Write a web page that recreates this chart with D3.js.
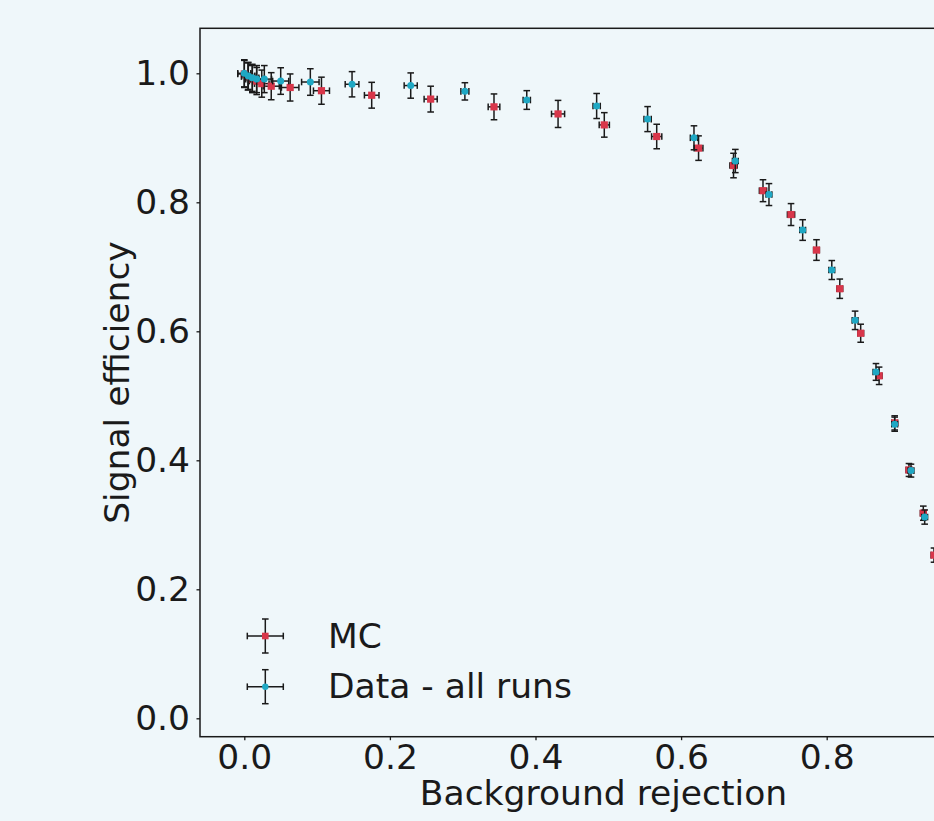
<!DOCTYPE html>
<html>
<head>
<meta charset="utf-8">
<script src="https://cdn.jsdelivr.net/npm/d3@7"></script>
<style>
  html, body { margin: 0; padding: 0; background: #eff7fa; overflow: hidden; }
  svg { display: block; }
  text { font-family: "DejaVu Sans", sans-serif; }
</style>
</head>
<body>
<svg id="chart" width="934" height="821"></svg>
<script>
// ---- Data ----
const xTicks = [0.0, 0.2, 0.4, 0.6, 0.8];
const yTicks = [0.0, 0.2, 0.4, 0.6, 0.8, 1.0];
const seriesNames = ["MC", "Data - all runs"];

// MC: background rejection, signal efficiency, x error, y error
const mcX    = [0.000, 0.005, 0.011, 0.017, 0.024, 0.037, 0.063, 0.106, 0.175, 0.256, 0.343, 0.431, 0.4945, 0.5665, 0.624, 0.672, 0.7125, 0.751, 0.786, 0.818, 0.8467, 0.872, 0.8934, 0.913, 0.9327, 0.9474];
const mcY    = [0.999, 0.995, 0.991, 0.988, 0.984, 0.980, 0.978, 0.973, 0.966, 0.960, 0.948, 0.937, 0.920, 0.902, 0.884, 0.857, 0.818, 0.781, 0.726, 0.666, 0.597, 0.531, 0.458, 0.385, 0.318, 0.253];
const mcXErr = [0.009, 0.009, 0.009, 0.010, 0.010, 0.011, 0.012, 0.011, 0.010, 0.009, 0.008, 0.009, 0.007, 0.007, 0.006, 0.005, 0.005, 0.005, 0.004, 0.004, 0.004, 0.004, 0.004, 0.004, 0.004, 0.004];
const mcYErr = [0.021, 0.021, 0.021, 0.021, 0.021, 0.021, 0.021, 0.021, 0.020, 0.020, 0.020, 0.021, 0.019, 0.019, 0.019, 0.019, 0.017, 0.017, 0.016, 0.015, 0.014, 0.0135, 0.011, 0.010, 0.011, 0.011];

// Data - all runs
const dataX    = [0.000, 0.0055, 0.011, 0.017, 0.0275, 0.050, 0.0907, 0.148, 0.2286, 0.303, 0.388, 0.484, 0.554, 0.6177, 0.6745, 0.7207, 0.767, 0.807, 0.839, 0.8677, 0.8934, 0.9158, 0.9346];
const dataY    = [1.000, 0.996, 0.993, 0.991, 0.991, 0.988, 0.9865, 0.983, 0.981, 0.972, 0.9586, 0.9493, 0.929, 0.900, 0.864, 0.812, 0.757, 0.695, 0.617, 0.537, 0.456, 0.384, 0.312];
const dataXErr = [0.009, 0.009, 0.009, 0.009, 0.010, 0.011, 0.012, 0.0094, 0.009, 0.0055, 0.005, 0.005, 0.005, 0.005, 0.004, 0.004, 0.004, 0.004, 0.004, 0.004, 0.004, 0.004, 0.004];
const dataYErr = [0.021, 0.021, 0.021, 0.021, 0.021, 0.0206, 0.0206, 0.0196, 0.0196, 0.0134, 0.0145, 0.0194, 0.0194, 0.0186, 0.018, 0.017, 0.016, 0.0147, 0.0143, 0.013, 0.011, 0.010, 0.011];

// ---- Layout ----
const bg = "#eff7fa";
const red = "#d8364a";
const cyan = "#1fa8c4";
const ink = "#1a1a1a";
const fontSize = 34.5;

const pLeft = 200, pRight = 1010, pTop = 28.3, pBottom = 736.7;
const x = d3.scaleLinear().domain([-0.06085, 1.0518]).range([pLeft, pRight]);
const y = d3.scaleLinear().domain([-0.02853, 1.06977]).range([pBottom, pTop]);

const svg = d3.select("#chart");
svg.append("rect").attr("width", 934).attr("height", 821).attr("fill", bg);

// axes frame
svg.append("rect")
  .attr("x", pLeft).attr("y", pTop)
  .attr("width", pRight - pLeft).attr("height", pBottom - pTop)
  .attr("fill", bg).attr("stroke", ink).attr("stroke-width", 1.5);

const xAxis = svg.append("g")
  .attr("transform", `translate(0,${pBottom})`)
  .call(d3.axisBottom(x).tickValues(xTicks).tickFormat(d3.format(".1f")).tickSize(3.5).tickPadding(4));
const yAxis = svg.append("g")
  .attr("transform", `translate(${pLeft},0)`)
  .call(d3.axisLeft(y).tickValues(yTicks).tickFormat(d3.format(".1f")).tickSize(3.5).tickPadding(6.5));
[xAxis, yAxis].forEach(g => {
  g.select(".domain").remove();
  g.selectAll("line").attr("stroke", ink).attr("stroke-width", 1.3);
  g.selectAll("text").attr("fill", ink).style("font-size", fontSize + "px")
    .style("font-family", '"DejaVu Sans", sans-serif');
});

// axis labels
svg.append("text")
  .attr("x", 603.5).attr("y", 805)
  .attr("text-anchor", "middle").attr("fill", ink)
  .style("font-size", fontSize + "px")
  .text("Background rejection");
svg.append("text")
  .attr("transform", `translate(129,${(pTop + pBottom) / 2}) rotate(-90)`)
  .attr("text-anchor", "middle").attr("fill", ink)
  .style("font-size", fontSize + "px")
  .text("Signal efficiency");

// ---- Error bar series ----
const cap = 3.3;
function drawSeries(xs, ys, xe, ye, color, shape) {
  const pts = xs.map((v, i) => ({ x: v, y: ys[i], xe: xe[i], ye: ye[i] }));
  const g = svg.append("g");
  const bars = g.append("g").attr("stroke", ink).attr("stroke-width", 1.5);
  pts.forEach(p => {
    const cx = x(p.x), cy = y(p.y);
    const x0 = x(p.x - p.xe), x1 = x(p.x + p.xe);
    const y0 = y(p.y - p.ye), y1 = y(p.y + p.ye);
    bars.append("line").attr("x1", x0).attr("x2", x1).attr("y1", cy).attr("y2", cy);
    bars.append("line").attr("x1", cx).attr("x2", cx).attr("y1", y0).attr("y2", y1);
    bars.append("line").attr("x1", x0).attr("x2", x0).attr("y1", cy - cap).attr("y2", cy + cap);
    bars.append("line").attr("x1", x1).attr("x2", x1).attr("y1", cy - cap).attr("y2", cy + cap);
    bars.append("line").attr("x1", cx - cap).attr("x2", cx + cap).attr("y1", y0).attr("y2", y0);
    bars.append("line").attr("x1", cx - cap).attr("x2", cx + cap).attr("y1", y1).attr("y2", y1);
  });
  const marks = g.append("g").attr("fill", color);
  if (shape === "square") {
    marks.selectAll("rect").data(pts).join("rect")
      .attr("x", d => x(d.x) - 3.6).attr("y", d => y(d.y) - 3.6)
      .attr("width", 7.2).attr("height", 7.2);
  } else {
    marks.selectAll("circle").data(pts).join("circle")
      .attr("cx", d => x(d.x)).attr("cy", d => y(d.y)).attr("r", 3.5);
  }
}
drawSeries(mcX, mcY, mcXErr, mcYErr, red, "square");
drawSeries(dataX, dataY, dataXErr, dataYErr, cyan, "circle");

// ---- Legend ----
const legend = svg.append("g");
const legItems = [
  { name: seriesNames[0], color: red, shape: "square", cy: 636 },
  { name: seriesNames[1], color: cyan, shape: "circle", cy: 686.7 }
];
legItems.forEach(it => {
  const cx = 265.3, hx = 18, hy = 17;
  const gg = legend.append("g").attr("stroke", ink).attr("stroke-width", 1.5);
  gg.append("line").attr("x1", cx - hx).attr("x2", cx + hx).attr("y1", it.cy).attr("y2", it.cy);
  gg.append("line").attr("x1", cx).attr("x2", cx).attr("y1", it.cy - hy).attr("y2", it.cy + hy);
  gg.append("line").attr("x1", cx - hx).attr("x2", cx - hx).attr("y1", it.cy - cap).attr("y2", it.cy + cap);
  gg.append("line").attr("x1", cx + hx).attr("x2", cx + hx).attr("y1", it.cy - cap).attr("y2", it.cy + cap);
  gg.append("line").attr("x1", cx - cap).attr("x2", cx + cap).attr("y1", it.cy - hy).attr("y2", it.cy - hy);
  gg.append("line").attr("x1", cx - cap).attr("x2", cx + cap).attr("y1", it.cy + hy).attr("y2", it.cy + hy);
  if (it.shape === "square") {
    legend.append("rect").attr("x", cx - 3.3).attr("y", it.cy - 3.3).attr("width", 6.6).attr("height", 6.6).attr("fill", it.color);
  } else {
    legend.append("circle").attr("cx", cx).attr("cy", it.cy).attr("r", 3.2).attr("fill", it.color);
  }
  legend.append("text").attr("x", 328).attr("y", it.cy + 11.7)
    .attr("fill", ink).style("font-size", fontSize + "px").text(it.name);
});
</script>
</body>
</html>
